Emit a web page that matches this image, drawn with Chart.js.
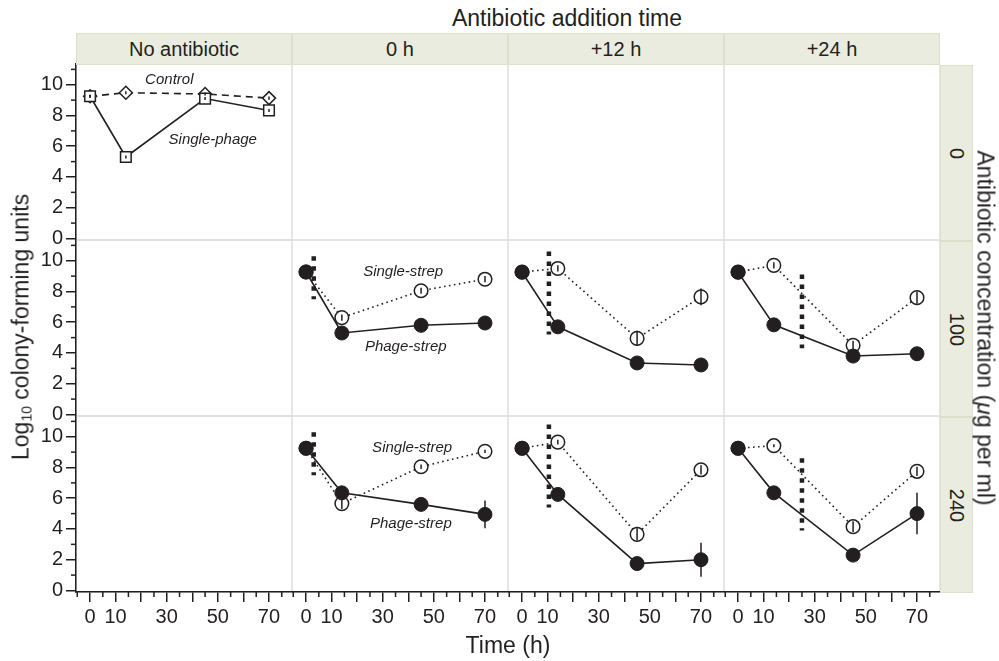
<!DOCTYPE html>
<html>
<head>
<meta charset="utf-8">
<title>Colony-forming units by antibiotic timing</title>
<script src="https://cdn.jsdelivr.net/npm/chart.js@4.4.1/dist/chart.umd.min.js"></script>
<style>
  body { margin: 0; background: #fff; }
  #fig { position: relative; width: 999px; height: 661px; overflow: hidden;
         font-family: 'Liberation Sans', Arial, sans-serif; color: #231f20; }
  #fig canvas { display: block; }
  .panel { position: absolute; }
  .strip { position: absolute; box-sizing: border-box; background: #e9ecde; border: 1px solid #dde1cc;
           display: flex; align-items: center; justify-content: center; font-size: 20px; white-space: nowrap; }
  .strip.side span { transform: rotate(90deg); }
  .title { position: absolute; font-size: 23px; white-space: nowrap; transform: translate(-50%, -50%); }
  .title.left { transform: translate(-50%, -50%) rotate(-90deg); }
  .title.right { transform: translate(-50%, -50%) rotate(90deg); }
  .title sub { font-size: 14px; vertical-align: -3px; }
</style>
</head>
<body>
<div id="fig"></div>
<script>
const INK = '#231f20';
const FRAME = '#dddddd';
const FONT = "'Liberation Sans', Arial, sans-serif";

const COLUMN_LABELS = ['No antibiotic', '0 h', '+12 h', '+24 h'];
const ROW_LABELS = ['0', '100', '240'];
const TIMES = [0, 14, 45, 70];
const X_TICKS = [0, 10, 20, 30, 40, 50, 60, 70];
const X_LABELLED = [0, 10, 30, 50, 70];
const Y_TICKS = [0, 2, 4, 6, 8, 10];

// no antibiotic, 0 ug/ml
const control = [9.25, 9.48, 9.4, 9.13];
const controlErr = [0.1, 0.1, 0.1, 0.1];
const singlePhage = [9.25, 5.3, 9.1, 8.33];
const singlePhageErr = [0.1, 0.1, 0.1, 0.1];

// antibiotic added at (h), columns 0 h, +12 h, +24 h
const ADD_TIMES = [3, 10.5, 25];

// 100 ug/ml, columns 0 h, +12 h, +24 h
const phage100 = [
  [9.27, 5.3, 5.8, 5.95],
  [9.25, 5.7, 3.35, 3.22],
  [9.25, 5.83, 3.8, 3.95]
];
const phage100Err = [
  [0, 0, 0.35, 0.4],
  [0, 0, 0, 0],
  [0, 0, 0, 0.25]
];
const single100 = [
  [9.27, 6.3, 8.05, 8.8],
  [9.27, 9.5, 4.95, 7.65],
  [9.27, 9.7, 4.5, 7.6]
];
const single100Err = [
  [0, 0.2, 0.2, 0.2],
  [0, 0.2, 0.5, 0.55],
  [0, 0.2, 0.3, 0.4]
];
const marker100 = [[7.5, 10.3], [5.2, 10.6], [4.3, 9.1]];

// 240 ug/ml, columns 0 h, +12 h, +24 h
const phage240 = [
  [9.25, 6.35, 5.6, 4.95],
  [9.25, 6.25, 1.75, 2.0],
  [9.25, 6.35, 2.3, 5.0]
];
const phage240Err = [
  [0, 0, 0, 0.9],
  [0, 0, 0.35, 1.1],
  [0, 0, 0.4, 1.35]
];
const single240 = [
  [9.25, 5.65, 8.05, 9.05],
  [9.25, 9.65, 3.65, 7.85],
  [9.25, 9.42, 4.15, 7.75]
];
const single240Err = [
  [0, 0.35, 0.15, 0.1],
  [0, 0.15, 0.4, 0.3],
  [0, 0.1, 0.35, 0.3]
];
const marker240 = [[7.5, 10.3], [5.4, 10.8], [3.9, 8.6]];

// italic series names: [text, time, value]
const NOTES_NO_AB = [['Control', 31, 10.3], ['Single-phage', 48, 6.4]];
const NOTES_100 = [['Single-strep', 38, 9.27], ['Phage-strep', 39, 4.4]];
const NOTES_240 = [['Single-strep', 41.5, 9.27], ['Phage-strep', 41, 4.35]];

// layout
const COL_X = [76, 292, 508, 724];
const COL_W = 216;
const ROW_Y = [64, 240, 416];
const ROW_H = 176;
const Y_AXIS_W = 70;
const X_AXIS_H = 40;
const LABEL_ROOM = 12;

const fig = document.getElementById('fig');

function points(vals) {
  return TIMES.map((t, i) => ({ x: t, y: vals[i] }));
}

const framePlugin = {
  id: 'frame',
  beforeDraw(chart) {
    const a = chart.chartArea;
    const ctx = chart.ctx;
    ctx.save();
    ctx.strokeStyle = FRAME;
    ctx.lineWidth = 1.5;
    ctx.strokeRect(a.left, a.top, a.right - a.left, a.bottom - a.top);
    ctx.restore();
  }
};

const errorBarPlugin = {
  id: 'errorBars',
  afterDatasetsDraw(chart) {
    const ctx = chart.ctx;
    const xs = chart.scales.x;
    const ys = chart.scales.y;
    ctx.save();
    ctx.strokeStyle = INK;
    ctx.lineWidth = 1.5;
    chart.data.datasets.forEach((ds) => {
      if (!ds.err) return;
      ds.data.forEach((p, i) => {
        const e = ds.err[i];
        if (!e) return;
        const px = xs.getPixelForValue(p.x);
        ctx.beginPath();
        ctx.moveTo(px, ys.getPixelForValue(p.y - e));
        ctx.lineTo(px, ys.getPixelForValue(p.y + e));
        ctx.stroke();
      });
    });
    ctx.restore();
  }
};

const notePlugin = {
  id: 'notes',
  afterDatasetsDraw(chart, args, opts) {
    if (!opts.items) return;
    const ctx = chart.ctx;
    ctx.save();
    ctx.font = `italic 15px ${FONT}`;
    ctx.fillStyle = INK;
    ctx.textAlign = 'center';
    ctx.textBaseline = 'middle';
    opts.items.forEach(([text, t, v]) => {
      ctx.fillText(text, chart.scales.x.getPixelForValue(t), chart.scales.y.getPixelForValue(v));
    });
    ctx.restore();
  }
};

const minorTickPlugin = {
  id: 'minorTicks',
  afterDraw(chart) {
    const ctx = chart.ctx;
    const xs = chart.scales.x;
    const ys = chart.scales.y;
    ctx.save();
    ctx.strokeStyle = INK;
    ctx.lineWidth = 1.5;
    if (xs.options.display) {
      for (let v = -5; v <= 75; v += 10) {
        const px = xs.getPixelForValue(v);
        ctx.beginPath();
        ctx.moveTo(px, xs.top);
        ctx.lineTo(px, xs.top + 5);
        ctx.stroke();
      }
    }
    if (ys.options.display) {
      for (let v = 1; v <= 11; v += 2) {
        const py = ys.getPixelForValue(v);
        ctx.beginPath();
        ctx.moveTo(ys.right, py);
        ctx.lineTo(ys.right - 5, py);
        ctx.stroke();
      }
    }
    ctx.restore();
  }
};

function seriesDatasets(phage, phageErr, single, singleErr, marker, addTime) {
  return [
    {
      label: 'Phage-strep',
      data: points(phage),
      err: phageErr,
      borderColor: INK,
      borderWidth: 1.6,
      pointRadius: 7,
      pointBackgroundColor: INK,
      pointBorderColor: INK,
      pointBorderWidth: 1
    },
    {
      label: 'Single-strep',
      data: points(single),
      err: singleErr,
      borderColor: INK,
      borderWidth: 1.6,
      borderDash: [1.6, 3.4],
      pointRadius: 6.8,
      pointBackgroundColor: '#ffffff',
      pointBorderColor: INK,
      pointBorderWidth: 1.5
    },
    {
      label: 'Antibiotic added',
      data: [{ x: addTime, y: marker[1] }, { x: addTime, y: marker[0] }],
      borderColor: INK,
      borderWidth: 4.5,
      borderDash: [4.5, 5.5],
      pointRadius: 0
    }
  ];
}

function panelContent(r, c) {
  if (r === 0 && c === 0) {
    return {
      notes: NOTES_NO_AB,
      datasets: [
        {
          label: 'Single-phage',
          data: points(singlePhage),
          err: singlePhageErr,
          borderColor: INK,
          borderWidth: 1.6,
          pointStyle: 'rect',
          pointRadius: 7.5,
          pointBackgroundColor: '#ffffff',
          pointBorderColor: INK,
          pointBorderWidth: 1.5
        },
        {
          label: 'Control',
          data: points(control),
          err: controlErr,
          borderColor: INK,
          borderWidth: 1.6,
          borderDash: [7, 5],
          pointStyle: 'rectRot',
          pointRadius: 6.5,
          pointBackgroundColor: '#ffffff',
          pointBorderColor: INK,
          pointBorderWidth: 1.5
        }
      ]
    };
  }
  if (r === 1 && c > 0) {
    const k = c - 1;
    return {
      notes: k === 0 ? NOTES_100 : null,
      datasets: seriesDatasets(phage100[k], phage100Err[k], single100[k], single100Err[k], marker100[k], ADD_TIMES[k])
    };
  }
  if (r === 2 && c > 0) {
    const k = c - 1;
    return {
      notes: k === 0 ? NOTES_240 : null,
      datasets: seriesDatasets(phage240[k], phage240Err[k], single240[k], single240Err[k], marker240[k], ADD_TIMES[k])
    };
  }
  return { notes: null, datasets: [] };
}

function makePanel(r, c) {
  const isLeft = c === 0;
  const isBottom = r === 2;
  // left panels get room above/below so the end tick labels are not cut off
  const padTop = isLeft ? LABEL_ROOM : 0;
  const padBottom = isLeft && !isBottom ? LABEL_ROOM : 0;
  const left = COL_X[c] - (isLeft ? Y_AXIS_W : 0);
  const width = COL_W + (isLeft ? Y_AXIS_W : 0);
  const height = ROW_H + (isBottom ? X_AXIS_H : 0) + padTop + padBottom;

  const box = document.createElement('div');
  box.className = 'panel';
  box.style.left = left + 'px';
  box.style.top = (ROW_Y[r] - padTop) + 'px';
  const canvas = document.createElement('canvas');
  canvas.width = width;
  canvas.height = height;
  box.appendChild(canvas);
  fig.appendChild(box);

  const content = panelContent(r, c);

  new Chart(canvas, {
    type: 'line',
    data: { datasets: content.datasets },
    options: {
      responsive: false,
      animation: false,
      devicePixelRatio: 1,
      layout: { padding: { top: padTop, bottom: padBottom, left: 0, right: 0 }, autoPadding: false },
      elements: { line: { tension: 0, borderCapStyle: 'butt' } },
      datasets: { line: { clip: false, fill: false } },
      plugins: {
        legend: { display: false },
        tooltip: { enabled: false },
        notes: { items: content.notes }
      },
      scales: {
        x: {
          type: 'linear',
          min: -5.5,
          max: 79,
          display: isBottom,
          afterBuildTicks: (s) => { s.ticks = X_TICKS.map((v) => ({ value: v })); },
          afterFit: (s) => {
            if (isBottom) s.height = X_AXIS_H;
            s.paddingLeft = 0;
            s.paddingRight = 0;
          },
          ticks: {
            autoSkip: false,
            maxRotation: 0,
            padding: 3,
            color: INK,
            font: { family: FONT, size: 20 },
            callback: (v) => (X_LABELLED.includes(v) ? String(v) : '')
          },
          grid: { drawOnChartArea: false, tickLength: 10, color: INK, lineWidth: 1.5 },
          border: { color: INK, width: 1.5 }
        },
        y: {
          type: 'linear',
          min: -0.1,
          max: 11.35,
          display: isLeft,
          afterBuildTicks: (s) => { s.ticks = Y_TICKS.map((v) => ({ value: v })); },
          afterFit: (s) => {
            if (isLeft) s.width = Y_AXIS_W;
            s.paddingTop = 0;
            s.paddingBottom = 0;
          },
          ticks: {
            autoSkip: false,
            padding: 3,
            color: INK,
            font: { family: FONT, size: 20 }
          },
          grid: { drawOnChartArea: false, tickLength: 10, color: INK, lineWidth: 1.5 },
          border: { color: INK, width: 1.5 }
        }
      }
    },
    plugins: [framePlugin, errorBarPlugin, notePlugin, minorTickPlugin]
  });
}

for (let r = 0; r < 3; r++) {
  for (let c = 0; c < 4; c++) {
    makePanel(r, c);
  }
}

// facet strips
COLUMN_LABELS.forEach((text, c) => {
  const el = document.createElement('div');
  el.className = 'strip';
  el.style.left = COL_X[c] + 'px';
  el.style.top = '33px';
  el.style.width = COL_W + 'px';
  el.style.height = '32px';
  el.textContent = text;
  fig.appendChild(el);
});

ROW_LABELS.forEach((text, r) => {
  const el = document.createElement('div');
  el.className = 'strip side';
  el.style.left = '940px';
  el.style.top = (ROW_Y[r] + 1) + 'px';
  el.style.width = '33px';
  el.style.height = ROW_H + 'px';
  const span = document.createElement('span');
  span.textContent = text;
  el.appendChild(span);
  fig.appendChild(el);
});

function addTitle(html, x, y, cls) {
  const el = document.createElement('div');
  el.className = 'title' + (cls ? ' ' + cls : '');
  el.style.left = x + 'px';
  el.style.top = y + 'px';
  el.innerHTML = html;
  fig.appendChild(el);
}

addTitle('Antibiotic addition time', 567, 18);
addTitle('Time (h)', 508, 645);
addTitle('Log<sub>10</sub> colony-forming units', 21, 327, 'left');
addTitle('Antibiotic concentration (<i>μ</i>g per ml)', 985, 328, 'right');
</script>
</body>
</html>
